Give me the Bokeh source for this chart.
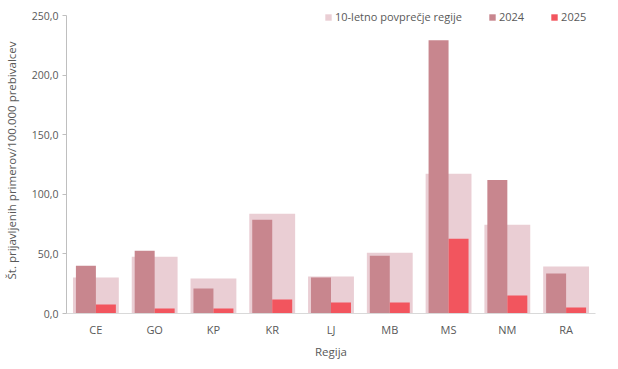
from bokeh.plotting import figure
from bokeh.models import ColumnDataSource, FixedTicker, Range1d, Legend, LegendItem
from bokeh.transform import dodge
from bokeh.embed import file_html
from bokeh.resources import INLINE

regions = ["CE", "GO", "KP", "KR", "LJ", "MB", "MS", "NM", "RA"]
avg10 = [30.2, 47.7, 29.3, 83.8, 31.0, 51.1, 117.3, 74.5, 39.4]
y2024 = [40.2, 52.8, 21.0, 78.7, 30.2, 48.6, 229.5, 112.2, 33.5]
y2025 = [7.5, 4.2, 4.2, 11.7, 9.2, 9.2, 62.8, 15.1, 5.0]
yticks = [0, 50, 100, 150, 200, 250]
ytick_labels = ["0,0", "50,0", "100,0", "150,0", "200,0", "250,0"]

FONT = "Open Sans"
TXT = "#595959"

src = ColumnDataSource(dict(r=regions, avg=avg10, a=y2024, b=y2025))

p = figure(x_range=regions, y_range=Range1d(0, 257), width=602, height=361,
           output_backend="svg", toolbar_location=None,
           min_border_left=62, min_border_right=7, min_border_top=7, min_border_bottom=48)

r_avg = p.vbar(x="r", top="avg", width=0.78, source=src, color="#EACED4", line_color=None)
r_a = p.vbar(x=dodge("r", -0.17, range=p.x_range), top="a", width=0.34, source=src,
             color="#C8868E", line_color=None)
r_b = p.vbar(x=dodge("r", 0.17, range=p.x_range), top="b", width=0.34, source=src,
             color="#F2555E", line_color=None)

p.xgrid.visible = False
p.ygrid.visible = False
p.outline_line_color = None
p.background_fill_color = "white"

p.yaxis.ticker = FixedTicker(ticks=yticks)
p.yaxis.bounds = (yticks[0], yticks[-1])
p.yaxis.major_label_overrides = {t: l for t, l in zip(yticks, ytick_labels)}
p.yaxis.minor_tick_line_color = None
p.yaxis.major_tick_out = 4
p.yaxis.major_tick_in = 0
p.yaxis.major_tick_line_color = "#bfbfbf"
p.yaxis.axis_line_color = "#bfbfbf"
p.yaxis.axis_label = "Št. prijavljenih primerov/100.000 prebivalcev"
p.yaxis.axis_label_text_font = FONT
p.yaxis.axis_label_text_font_style = "normal"
p.yaxis.axis_label_text_font_size = "11.5px"
p.yaxis.axis_label_text_color = TXT
p.yaxis.axis_label_standoff = 10
p.yaxis.major_label_text_font = FONT
p.yaxis.major_label_text_font_size = "10.5px"
p.yaxis.major_label_text_color = TXT
p.yaxis.major_label_standoff = 4

p.xaxis.axis_line_color = "#d9d9d9"
p.xaxis.major_tick_line_color = None
p.xaxis.major_tick_out = 0
p.xaxis.major_tick_in = 0
p.xaxis.minor_tick_line_color = None
p.xaxis.axis_label = "Regija"
p.xaxis.axis_label_text_font = FONT
p.xaxis.axis_label_text_font_style = "normal"
p.xaxis.axis_label_text_font_size = "11.5px"
p.xaxis.axis_label_text_color = TXT
p.xaxis.axis_label_standoff = 4
p.xaxis.major_label_text_font = FONT
p.xaxis.major_label_text_font_size = "11px"
p.xaxis.major_label_text_color = TXT
p.xaxis.major_label_standoff = 8

legend = Legend(items=[LegendItem(label="10-letno povprečje regije", renderers=[r_avg]),
                       LegendItem(label="2024", renderers=[r_a]),
                       LegendItem(label="2025", renderers=[r_b])],
                orientation="horizontal", location=(258, 289))
legend.background_fill_alpha = 0
legend.border_line_color = None
legend.glyph_width = 8
legend.glyph_height = 8
legend.label_text_font = FONT
legend.label_text_font_size = "11px"
legend.label_text_color = TXT
legend.label_standoff = 3
legend.spacing = 26
legend.padding = 0
legend.margin = 0
p.add_layout(legend)

open("out.html", "w").write(file_html(p, INLINE))
